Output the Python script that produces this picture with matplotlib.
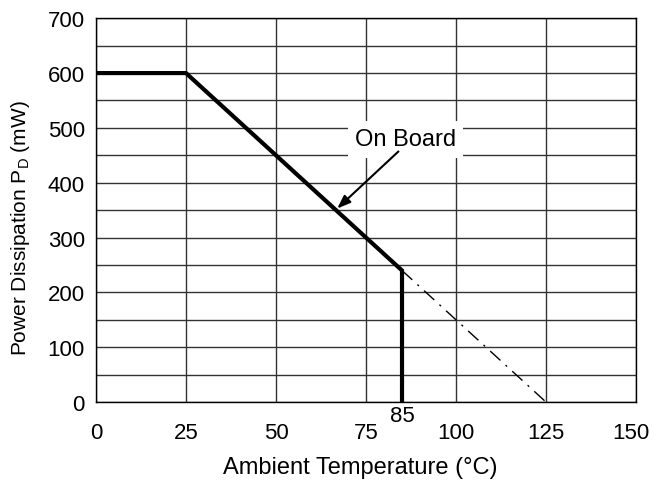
import numpy as np
from matplotlib import pyplot as plt
from matplotlib.transforms import ScaledTranslation

plt.rcParams['font.family'] = ['Liberation Sans', 'DejaVu Sans']
plt.rcParams['mathtext.fontset'] = 'custom'
plt.rcParams['mathtext.rm'] = 'Liberation Sans'

# derating curve, on board
temp = [0, 25, 85, 85]
power = [600, 600, 240, 0]
# extension to Tj max
temp_ext = [85, 125]
power_ext = [240, 0]

xticks = [0, 25, 50, 75, 100, 125, 150]
yticks = [0, 100, 200, 300, 400, 500, 600, 700]

fig = plt.figure(figsize=(6.53, 4.81), dpi=100)
ax = fig.add_axes([0.147, 0.162, 0.827, 0.798])

ax.set_xlim(0, 150)
ax.set_ylim(0, 700)
ax.set_xticks(xticks)
ax.set_yticks(yticks)
ax.set_yticks(np.arange(0, 701, 50), minor=True)
ax.grid(True, which='both', color='#333333', linewidth=1.0)
ax.tick_params(which='both', length=0, labelsize=16)
ax.tick_params(axis='x', pad=14)
ax.tick_params(axis='y', pad=8)
for s in ax.spines.values():
    s.set_linewidth(1.0)
    s.set_color('black')

# last x label pulled in a little so it stays inside the figure
lbl = ax.get_xticklabels()[-1]
lbl.set_transform(lbl.get_transform() + ScaledTranslation(-5 / 100, 0, fig.dpi_scale_trans))

ax.plot(temp_ext, power_ext, color='black', linewidth=1.0,
        dashes=(10, 5, 1.5, 5), zorder=3)
ax.plot(temp, power, color='black', linewidth=3.0, solid_joinstyle='miter', zorder=4)

ax.text(86, 479, "On Board", fontsize=17, ha='center', va='center',
        bbox=dict(boxstyle='square,pad=0.3', fc='white', ec='none'), zorder=5)
ax.annotate("", xy=(67, 353), xytext=(84, 457),
            arrowprops=dict(arrowstyle='-|>,head_length=0.8,head_width=0.3',
                            color='black', lw=1.5, shrinkA=0, shrinkB=0),
            zorder=6)

ax.text(85, -0.036, "85", transform=ax.get_xaxis_transform(), fontsize=16,
        ha='center', va='center', clip_on=False)

ax.text(0.49, -0.169, "Ambient Temperature (°C)", transform=ax.transAxes,
        fontsize=17, ha='center', va='center')
ax.text(-0.139, 0.456, r"Power Dissipation P$_\mathregular{D}$ (mW)", transform=ax.transAxes,
        fontsize=15, ha='center', va='center', rotation=90)

plt.savefig("out.png", dpi=100)
